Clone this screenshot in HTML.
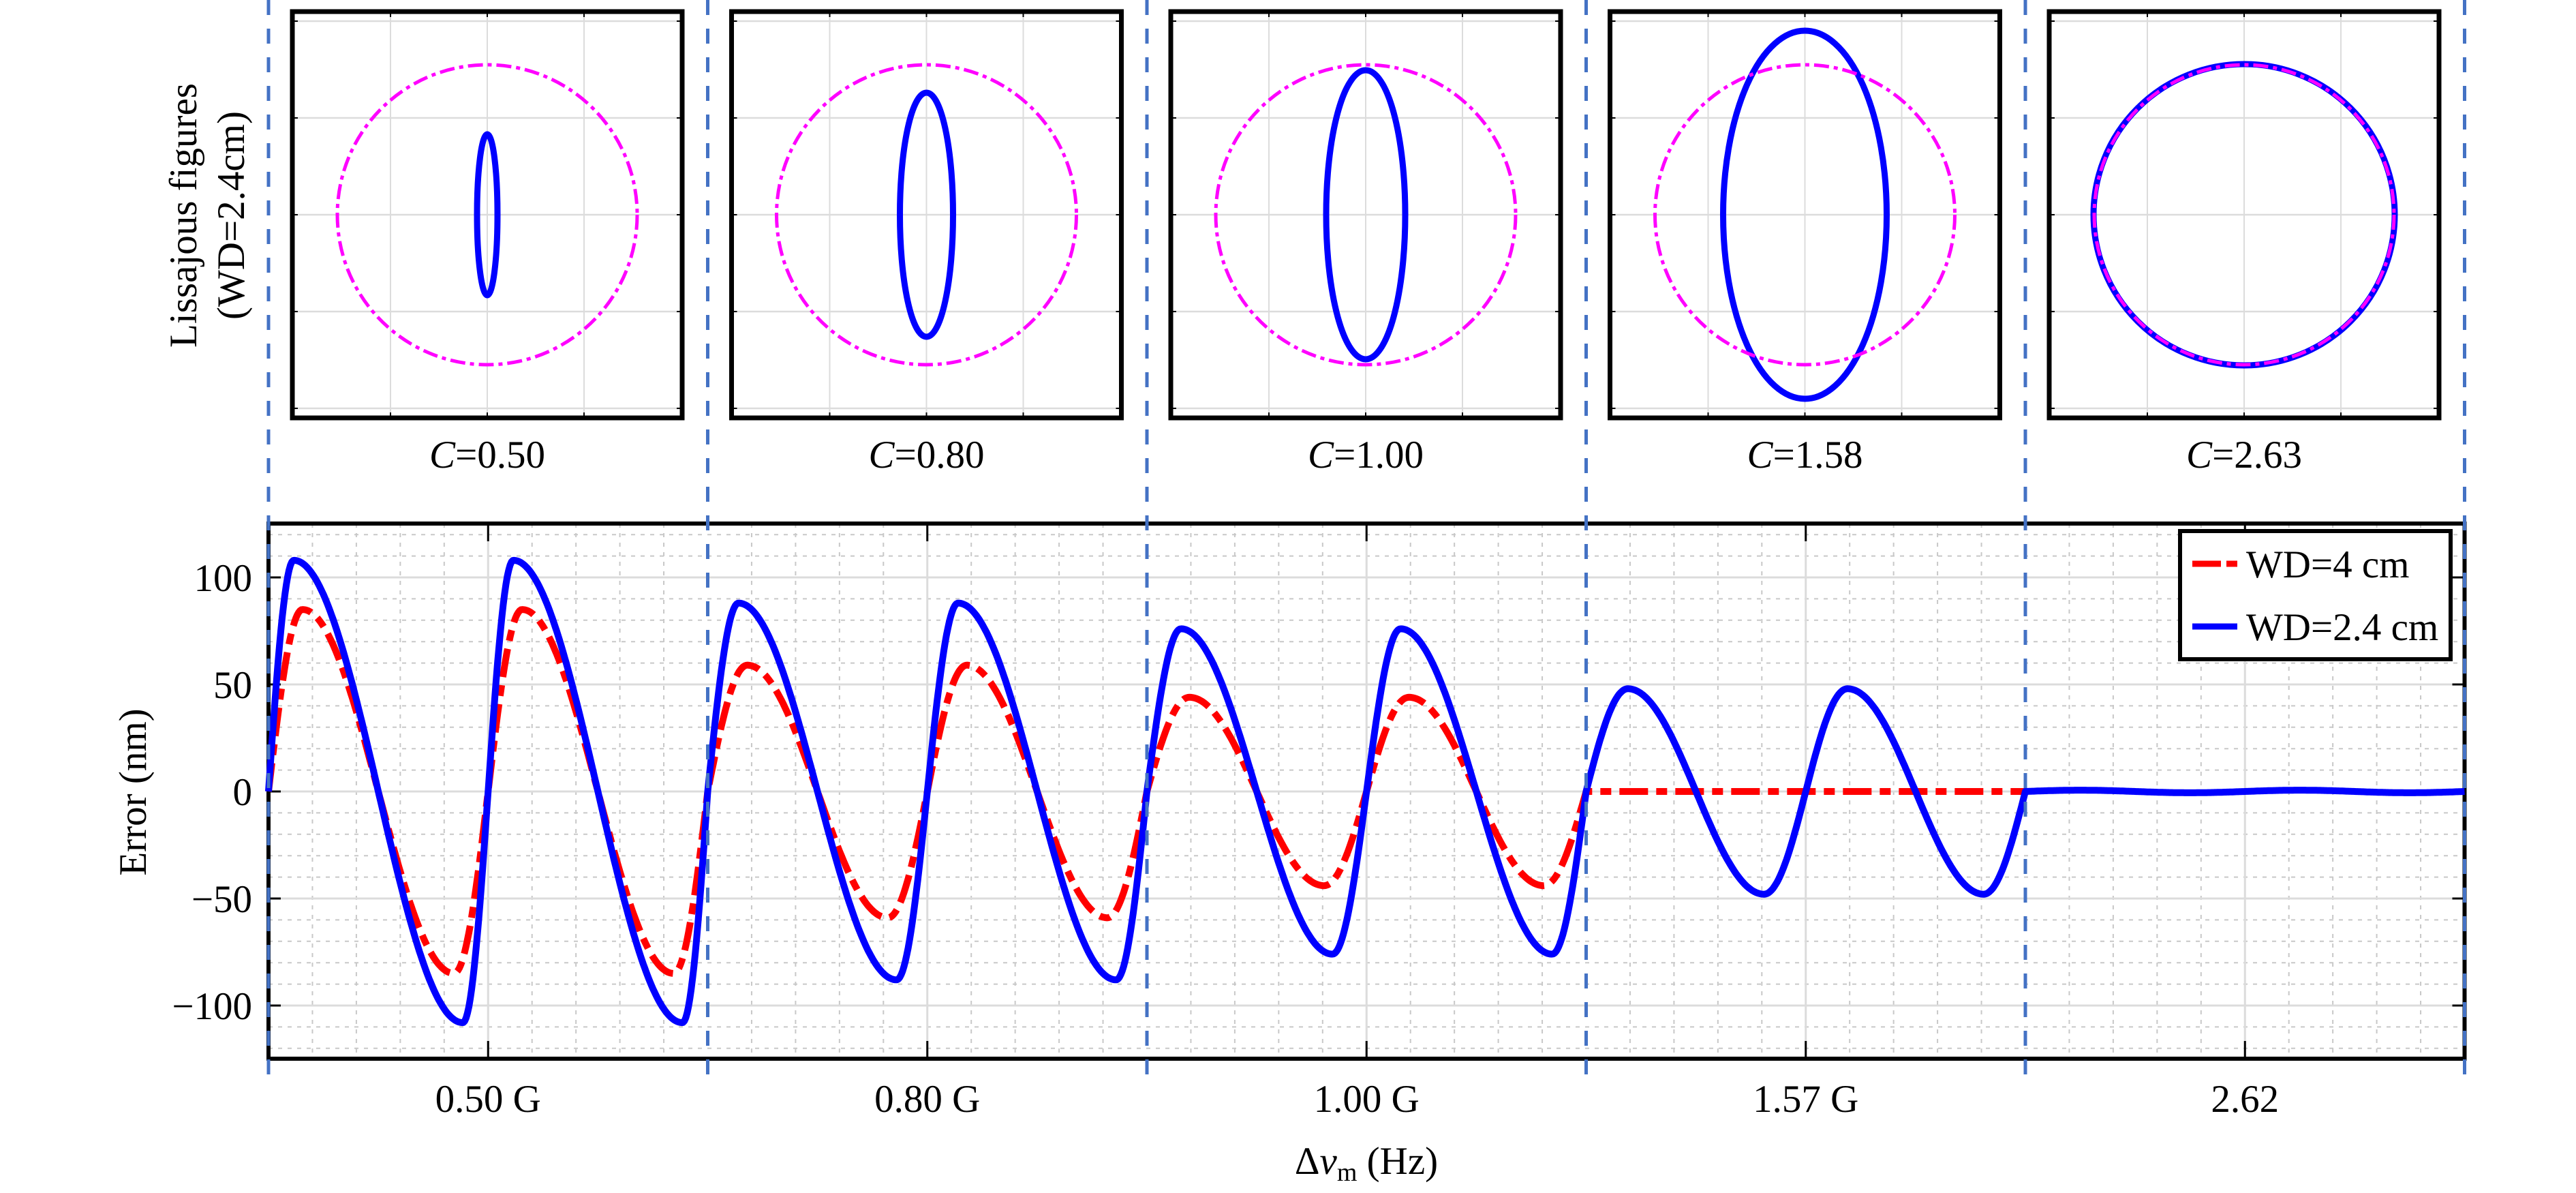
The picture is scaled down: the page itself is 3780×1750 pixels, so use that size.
<!DOCTYPE html>
<html><head><meta charset="utf-8">
<style>
html,body{margin:0;padding:0;background:#fff;}
svg{display:block;}
text{font-family:"Liberation Serif",serif;fill:#000;}
</style></head>
<body>
<svg id="s" width="3780" height="1750" viewBox="0 0 3780 1750" xmlns="http://www.w3.org/2000/svg">
<g id="gtop"></g>
<g id="gbot"></g>
<g id="gcur"></g>
<g id="gdash"></g>
<g id="glab"></g>
</svg>
<script>
(function(){
const NS="http://www.w3.org/2000/svg";
function el(p,tag,attrs,txt){const e=document.createElementNS(NS,tag);for(const k in attrs)e.setAttribute(k,attrs[k]);if(txt!==undefined)e.textContent=txt;p.appendChild(e);return e;}
const topG=document.getElementById('gtop'),bot=document.getElementById('gbot'),cur=document.getElementById('gcur'),dsh=document.getElementById('gdash'),lab=document.getElementById('glab');
const X0=394,SW=644.5,X1=X0+5*SW;
const Y0=1161,SY=3.14,YT=768,YB=1553;
const FS=57;
const Cs=["0.50","0.80","1.00","1.58","2.63"];
const bh=[118,179,212,270,221], bw=[15,39,58,120,221];
for(let k=0;k<5;k++){
  const L=X0+k*SW+35, W=572, T=17, H=596;
  const cx=L+W/2, cy=T+H/2;
  for(const d of [-284,-142,0,142,284]) el(topG,'line',{x1:L,x2:L+W,y1:cy+d,y2:cy+d,stroke:'#dcdcdc','stroke-width':2.5});
  for(const d of [-142,0,142]) el(topG,'line',{x1:cx+d,x2:cx+d,y1:T,y2:T+H,stroke:'#dcdcdc','stroke-width':2});
  for(const d of [-284,-142,0,142,284]){el(topG,'line',{x1:L,x2:L+8,y1:cy+d,y2:cy+d,stroke:'#000','stroke-width':2});el(topG,'line',{x1:L+W-8,x2:L+W,y1:cy+d,y2:cy+d,stroke:'#000','stroke-width':2});}
  for(const d of [-142,0,142]){el(topG,'line',{x1:cx+d,x2:cx+d,y1:T+H-8,y2:T+H,stroke:'#000','stroke-width':2});el(topG,'line',{x1:cx+d,x2:cx+d,y1:T,y2:T+8,stroke:'#000','stroke-width':2});}
  el(topG,'ellipse',{cx:cx,cy:cy,rx:bw[k],ry:bh[k],fill:'none',stroke:'#0000ff','stroke-width':9});
  el(topG,'circle',{cx:cx,cy:cy,r:220,fill:'none',stroke:'#ff00ff','stroke-width':5,'stroke-dasharray':'22 7 6 7'});
  el(topG,'rect',{x:L,y:T,width:W,height:H,fill:'none',stroke:'#000','stroke-width':7});
  const t=el(lab,'text',{x:cx,y:686,'font-size':FS,'text-anchor':'middle'});
  el(t,'tspan',{'font-style':'italic'},'C');el(t,'tspan',{},'='+Cs[k]);
}
el(lab,'text',{x:0,y:0,'font-size':FS,'text-anchor':'middle',transform:'translate(288,316) rotate(-90)'},'Lissajous figures');
el(lab,'text',{x:0,y:0,'font-size':FS,'text-anchor':'middle',transform:'translate(358,316) rotate(-90)'},'(WD=2.4cm)');
for(let i=1;i<50;i++){const x=X0+i*SW/10; if(i%5) el(bot,'line',{x1:x,x2:x,y1:YT,y2:YB,stroke:'#c8c8c8','stroke-width':2,'stroke-dasharray':'6 8'});}
for(let v=-120;v<=120;v+=10){ if(v%50) {const y=Y0-v*SY; el(bot,'line',{x1:X0,x2:X1,y1:y,y2:y,stroke:'#c8c8c8','stroke-width':2,'stroke-dasharray':'6 8'});}}
for(let v=-100;v<=100;v+=50){const y=Y0-v*SY; el(bot,'line',{x1:X0,x2:X1,y1:y,y2:y,stroke:'#dcdcdc','stroke-width':3});
  el(bot,'line',{x1:X0,x2:X0+18,y1:y,y2:y,stroke:'#000','stroke-width':3});el(bot,'line',{x1:X1-18,x2:X1,y1:y,y2:y,stroke:'#000','stroke-width':3});
  el(lab,'text',{x:370,y:y+20,'font-size':FS,'text-anchor':'end'},(v<0?'\u2212':'')+Math.abs(v));}
for(let k=0;k<5;k++){const x=X0+(k+0.5)*SW; el(bot,'line',{x1:x,x2:x,y1:YT,y2:YB,stroke:'#dcdcdc','stroke-width':3});
  el(bot,'line',{x1:x,x2:x,y1:YB-26,y2:YB,stroke:'#000','stroke-width':3});el(bot,'line',{x1:x,x2:x,y1:YT,y2:YT+26,stroke:'#000','stroke-width':3});}
el(bot,'rect',{x:X0,y:YT,width:X1-X0,height:YB-YT,fill:'none',stroke:'#000','stroke-width':6});
function seg(A,p,k){let pts=[];const N=160;for(let j=0;j<2;j++)for(let i=0;i<=N;i++){const t=i/N;let ph;
  if(t<p)ph=(Math.PI/2)*t/p;else if(t<1-p)ph=Math.PI/2+Math.PI*(t-p)/(1-2*p);else ph=1.5*Math.PI+(Math.PI/2)*(t-(1-p))/p;
  const x=X0+k*SW+(j+t)*SW/2, y=Y0-A*Math.sin(ph)*SY; pts.push(x.toFixed(1)+','+y.toFixed(1));}
  return pts;}
let red=[];[[85,0.155],[59,0.18],[44,0.193]].forEach((a,k)=>{red=red.concat(seg(a[0],a[1],k));});
red.push((X0+4*SW).toFixed(1)+','+Y0);
el(cur,'polyline',{points:red.join(' '),fill:'none',stroke:'#ff0000','stroke-width':10,'stroke-dasharray':'42 12 16 12'});
let blue=[];[[108,0.115],[88,0.14],[76,0.155],[48,0.19]].forEach((a,k)=>{blue=blue.concat(seg(a[0],a[1],k));});
blue=blue.concat(seg(0.6,0.25,4));
el(cur,'polyline',{points:blue.join(' '),fill:'none',stroke:'#0000ff','stroke-width':10,'stroke-linejoin':'round'});
for(let k=0;k<=5;k++){const x=X0+k*SW; el(dsh,'line',{x1:x,x2:x,y1:0,y2:1577,stroke:'#4472c4','stroke-width':5,'stroke-dasharray':'22 20'});}
el(lab,'rect',{x:3199,y:779,width:397,height:188,fill:'#fff',stroke:'#000','stroke-width':6});
el(lab,'line',{x1:3217,x2:3283,y1:827,y2:827,stroke:'#ff0000','stroke-width':9,'stroke-dasharray':'42 8 18 8'});
el(lab,'line',{x1:3217,x2:3283,y1:919,y2:919,stroke:'#0000ff','stroke-width':9});
el(lab,'text',{x:3296,y:847,'font-size':FS},'WD=4 cm');
el(lab,'text',{x:3296,y:939,'font-size':FS},'WD=2.4 cm');
const XL=["0.50 G","0.80 G","1.00 G","1.57 G","2.62"];
XL.forEach((s,k)=>el(lab,'text',{x:X0+(k+0.5)*SW,y:1631,'font-size':FS,'text-anchor':'middle'},s));
el(lab,'text',{x:0,y:0,'font-size':FS,'text-anchor':'middle',transform:'translate(214,1162) rotate(-90)'},'Error (nm)');
const xl=el(lab,'text',{x:2005,y:1722,'font-size':FS,'text-anchor':'middle'});
el(xl,'tspan',{},'\u0394');el(xl,'tspan',{'font-style':'italic'},'v');el(xl,'tspan',{'font-size':38,dy:10},'m');el(xl,'tspan',{dy:-10},' (Hz)');
})();
</script>
</body></html>
